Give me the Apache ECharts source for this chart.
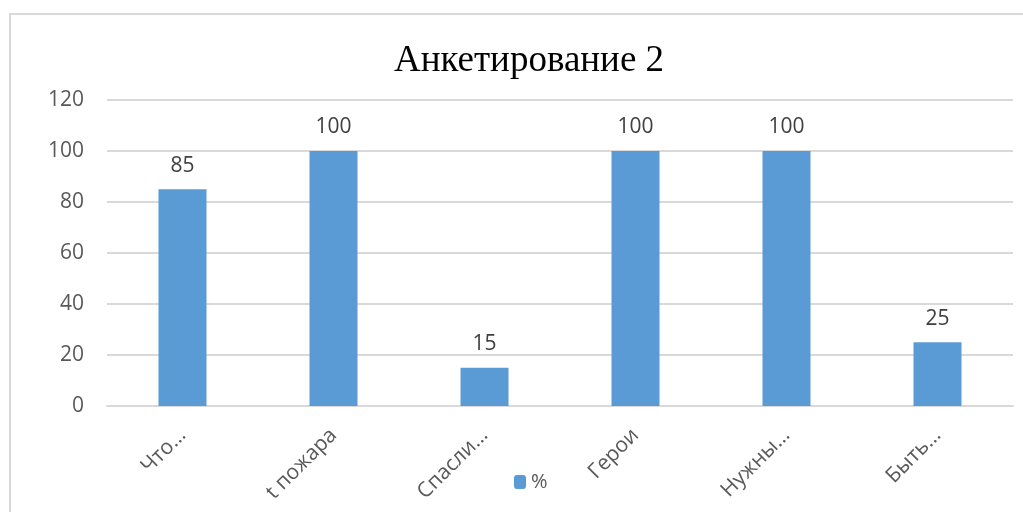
<!DOCTYPE html>
<html><head><meta charset="utf-8">
<script src="https://cdn.jsdelivr.net/npm/echarts@6/dist/echarts.min.js"></script>
<style>html,body{margin:0;padding:0;background:#fff}#c{width:1023px;height:512px;position:relative}
#b{position:absolute;left:9px;top:13px;width:1030px;height:520px;border:2px solid #d9d9d9;box-sizing:border-box;pointer-events:none}</style>
</head><body><div id="c"></div><div id="b"></div>
<script>
const categories = ["Что…", "t пожара", "Спасли…", "Герои", "Нужны…", "Быть…"];
const values = [85, 100, 15, 100, 100, 25];
const seriesName = "%";
const titleText = "Анкетирование 2";

const chart = echarts.init(document.getElementById('c'));
chart.setOption({
  animation: false,
  title: { text: titleText, left: 524, top: 38, textAlign: 'center',
    textStyle: { fontFamily: 'Liberation Serif', fontSize: 37, fontWeight: 'normal', color: '#000' } },
  legend: { data: [seriesName], left: 509, top: 467, itemWidth: 12, itemHeight: 14, itemGap: 6,
    textStyle: { fontFamily: 'Open Sans', fontSize: 20, color: '#595959' } },
  grid: { left: 107, right: 10, top: 100, bottom: 106 },
  xAxis: { type: 'category', data: categories,
    axisLine: { lineStyle: { color: '#d9d9d9', width: 2 } },
    axisTick: { show: false },
    axisLabel: { rotate: 45, margin: 26, fontFamily: 'Open Sans', fontSize: 21, color: '#595959' } },
  yAxis: { type: 'value', min: 0, max: 120, interval: 20,
    axisLine: { show: false }, axisTick: { show: false },
    splitLine: { lineStyle: { color: '#d9d9d9', width: 2 } },
    axisLabel: { margin: 23, fontFamily: 'Open Sans', fontSize: 21, color: '#595959' } },
  series: [{ name: seriesName, type: 'bar', data: values, barWidth: 48,
    itemStyle: { color: '#5b9bd5' },
    label: { show: true, position: 'top', distance: 13, fontFamily: 'Open Sans', fontSize: 21, color: '#404040' } }]
});
</script></body></html>
